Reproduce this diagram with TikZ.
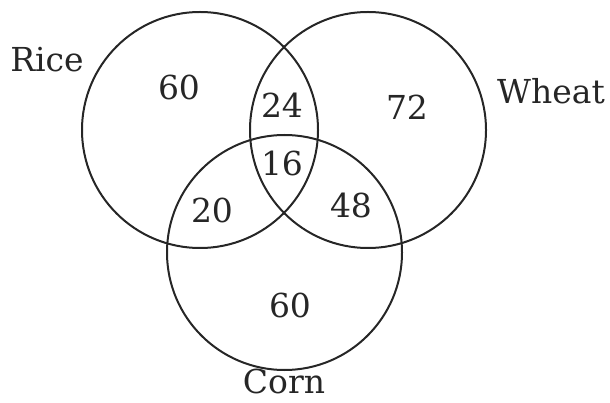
\documentclass[tikz,border=0pt]{standalone}
\usepackage{fontspec}
\setmainfont{DejaVu Serif}
\begin{document}
\begin{tikzpicture}[x=1pt,y=-1pt,
  set/.style={draw=black!85,line width=2pt},
  lbl/.style={font=\fontsize{33}{36}\selectfont,text=black!85,inner sep=0pt}]
\useasboundingbox (0,0) rectangle (610,403);
\draw[set] (200,130) circle[radius=118] coordinate (rice);
\draw[set] (368,130) circle[radius=118] coordinate (wheat);
\draw[set] (284.5,252.5) circle[radius=117.5] coordinate (corn);
\node[lbl] (lrice) at (47,60) {Rice};
\node[lbl] (lwheat) at (551,91) {Wheat};
\node[lbl,anchor=base] (lcorn) at (284,393) {Corn};
\node[lbl] (n1) at (179,87) {60};
\node[lbl] (n2) at (282,105) {24};
\node[lbl] (n3) at (407,107) {72};
\node[lbl] (n4) at (282,163) {16};
\node[lbl] (n5) at (212,210) {20};
\node[lbl] (n6) at (351,205) {48};
\node[lbl] (n7) at (290,305) {60};
\end{tikzpicture}
\end{document}
